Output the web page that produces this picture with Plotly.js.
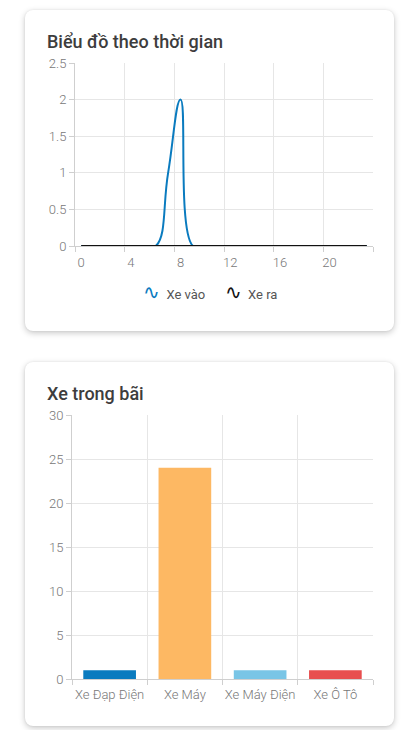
<!DOCTYPE html>
<html>
<head>
<meta charset="utf-8">
<script src="https://cdn.plot.ly/plotly-3.0.1.min.js"></script>
<style>
  html, body { margin:0; padding:0; background:#ffffff; width:420px; height:730px; overflow:hidden; font-family: Roboto, sans-serif; }
  .card { position:absolute; left:25px; width:369px; background:#fff; border-radius:8px;
          box-shadow: 0 2px 6px rgba(0,0,0,0.22), 0 0 2px rgba(0,0,0,0.08); overflow:hidden; }
  #card1 { top:10px; height:321px; }
  #card2 { top:362px; height:364px; }
  .plot { width:369px; height:100%; }
</style>
</head>
<body>
<div class="card" id="card1"><div class="plot" id="chart1"></div></div>
<div class="card" id="card2"><div class="plot" id="chart2"></div></div>
<script>
// ---- Data: chart 1 (time series by hour) ----
const hours = [0,1,2,3,4,5,6,7,8,9,10,11,12,13,14,15,16,17,18,19,20,21,22,23];
const xeVao = [0,0,0,0,0,0,0,1,2,0,0,0,0,0,0,0,0,0,0,0,0,0,0,0];
const xeRa  = [0,0,0,0,0,0,0,0,0,0,0,0,0,0,0,0,0,0,0,0,0,0,0,0];
const hourTickLabels = ['0','4','8','12','16','20'];
const seriesNames = ['Xe vào','Xe ra'];
const chart1Title = 'Biểu đồ theo thời gian';

// ---- Data: chart 2 (vehicles in lot) ----
const vehicleTypes = ['Xe Đạp Điện','Xe Máy','Xe Máy Điện','Xe Ô Tô'];
const vehicleCounts = [1, 24, 1, 1];
const vehicleColors = ['#0a7bbf','#fdb863','#79c5e6','#e84f4f'];
const chart2Title = 'Xe trong bãi';

const FONT = 'Roboto, "Open Sans", sans-serif';
const GRID = '#e6e6e6';
const AXIS = '#cfcfcf';
const TICKFONT = {family: FONT, size: 13, color: '#777', weight: 300};
const BLUE = '#0a7bbf';

// ---- Chart 1 ----
const xMin = hours[0] - 0.5, xMax = hours[hours.length-1] + 0.5;
const labelVals = hourTickLabels.map(Number);

const traces1 = [
  {x: hours, y: xeVao, name: seriesNames[0], type:'scatter', mode:'lines',
   line:{color: BLUE, width:2, shape:'spline', smoothing:1.3}, showlegend:false, hoverinfo:'skip'},
  {x: hours, y: xeRa, name: seriesNames[1], type:'scatter', mode:'lines',
   line:{color:'#111', width:2, shape:'spline', smoothing:1.3}, showlegend:false, hoverinfo:'skip'}
];

const layout1 = {
  width: 369, height: 321,
  margin: {l:50, r:21, t:53, b:85},
  paper_bgcolor:'rgba(0,0,0,0)', plot_bgcolor:'rgba(0,0,0,0)',
  font: {family: FONT},
  title: {text: chart1Title, font:{family: FONT, size:18, color:'#3d3d3d', weight:500},
          xref:'container', x: 22/369, xanchor:'left', yref:'container', y: 1 - 32/321, yanchor:'middle'},
  xaxis: {type:'linear', range:[xMin, xMax], tickmode:'array', tickvals: labelVals, ticktext: hourTickLabels,
          showgrid:false, ticks:'', tickfont: TICKFONT, ticklabelstandoff: 4, tickangle: 0,
          minor: {tickmode:'linear', tick0: xMin, dtick: 4, showgrid:true, gridcolor:GRID, gridwidth:1,
                  ticks:'outside', ticklen:5, tickcolor:AXIS},
          showline:true, linecolor:AXIS, linewidth:1,
          zeroline:false, layer:'below traces', fixedrange:true},
  yaxis: {range:[0, 2.5], tickmode:'linear', tick0:0, dtick:0.5, showgrid:true, gridcolor:GRID,
          ticks:'outside', ticklen:5, tickcolor:AXIS, showline:true, linecolor:AXIS,
          zeroline:false, tickfont: TICKFONT, layer:'below traces', fixedrange:true},
  annotations: [{
    xref:'paper', yref:'paper', x: (184.5-50)/298, y: -46/183, xanchor:'center', yanchor:'middle',
    showarrow:false,
    text: '<span style="color:'+BLUE+';font-size:20px">∿</span>  ' + seriesNames[0] +
          '      <span style="color:#111;font-size:20px">∿</span>  ' + seriesNames[1],
    font: {family: FONT, size: 13, color:'#555'}
  }]
};

// ---- Chart 2 ----
const traces2 = [{
  x: vehicleTypes, y: vehicleCounts, type:'bar', width:0.7,
  marker:{color: vehicleColors, line:{width:0}}, showlegend:false, hoverinfo:'skip'
}];

const layout2 = {
  width: 369, height: 364,
  margin: {l:47, r:21, t:53, b:47},
  paper_bgcolor:'rgba(0,0,0,0)', plot_bgcolor:'rgba(0,0,0,0)',
  font: {family: FONT},
  title: {text: chart2Title, font:{family: FONT, size:18, color:'#3d3d3d', weight:500},
          xref:'container', x: 22/369, xanchor:'left', yref:'container', y: 1 - 32/364, yanchor:'middle'},
  xaxis: {type:'category', tickson:'boundaries', showgrid:true, gridcolor:GRID,
          ticks:'outside', ticklen:5, tickcolor:AXIS, showline:true, linecolor:AXIS, tickangle: 0,
          tickfont: TICKFONT, ticklabelstandoff: 3, layer:'below traces', fixedrange:true},
  yaxis: {range:[0, 30], tickmode:'linear', tick0:0, dtick:5, showgrid:true, gridcolor:GRID,
          ticks:'outside', ticklen:5, tickcolor:AXIS, showline:true, linecolor:AXIS,
          zeroline:false, tickfont: TICKFONT, layer:'below traces', fixedrange:true}
};

const cfg = {staticPlot:true, displayModeBar:false};
Plotly.newPlot('chart1', traces1, layout1, cfg);
Plotly.newPlot('chart2', traces2, layout2, cfg);
</script>
</body>
</html>
